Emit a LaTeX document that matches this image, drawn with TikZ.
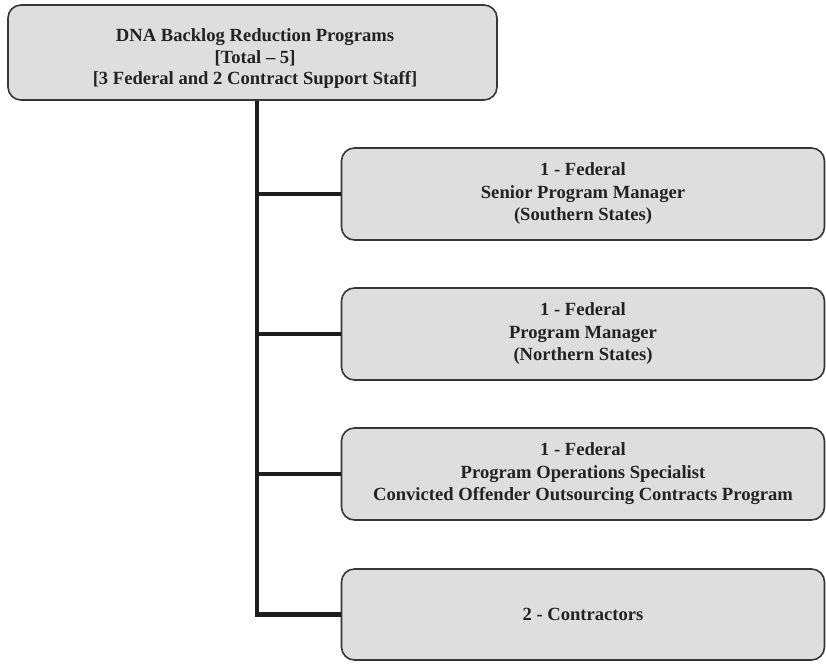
\documentclass[tikz,border=0pt]{standalone}
\usepackage{fontspec}
\setmainfont{Liberation Serif}
\definecolor{boxfill}{RGB}{222,222,222}
\definecolor{boxline}{RGB}{55,55,55}
\definecolor{txt}{RGB}{35,35,35}
\definecolor{conn}{RGB}{30,30,30}
\begin{document}
\begin{tikzpicture}[x=1pt,y=-1pt,
  orgbox/.style={draw=boxline, line width=1.6pt, fill=boxfill, rounded corners=13pt,
    align=center, text=txt, inner sep=0pt,
    font=\fontsize{18.6}{22.5}\selectfont\bfseries},
  lbl/.style={align=center, text=txt, inner sep=0pt,
    font=\fontsize{18.6}{21.5}\selectfont\bfseries},
  link/.style={draw=conn, line width=4.5pt}]
\useasboundingbox (0,0) rectangle (826,663);
\node[orgbox, minimum width=489pt, minimum height=95pt] (top) at (252.5,52.5) {};
\node[lbl] (toplbl) at (255,59)
  {DNA Backlog Reduction Programs\\{}[Total – 5]\\{}[3 Federal and 2 Contract Support Staff]};
\node[orgbox, minimum width=483pt, minimum height=92pt] (b1) at (583,194)
  {1 - Federal\\Senior Program Manager\\(Southern States)};
\node[orgbox, minimum width=483pt, minimum height=92pt] (b2) at (583,334)
  {1 - Federal\\Program Manager\\(Northern States)};
\node[orgbox, minimum width=483pt, minimum height=92pt] (b3) at (583,474)
  {1 - Federal\\Program Operations Specialist\\Convicted Offender Outsourcing Contracts Program};
\node[orgbox, minimum width=483pt, minimum height=91pt] (b4) at (583,614.5)
  {2 - Contractors};
\coordinate (spine) at (257,0);
\draw[link] (top.south -| spine) |- (b4.west);
\draw[link] (spine |- b1.west) -- (b1.west);
\draw[link] (spine |- b2.west) -- (b2.west);
\draw[link] (spine |- b3.west) -- (b3.west);
\end{tikzpicture}
\end{document}
